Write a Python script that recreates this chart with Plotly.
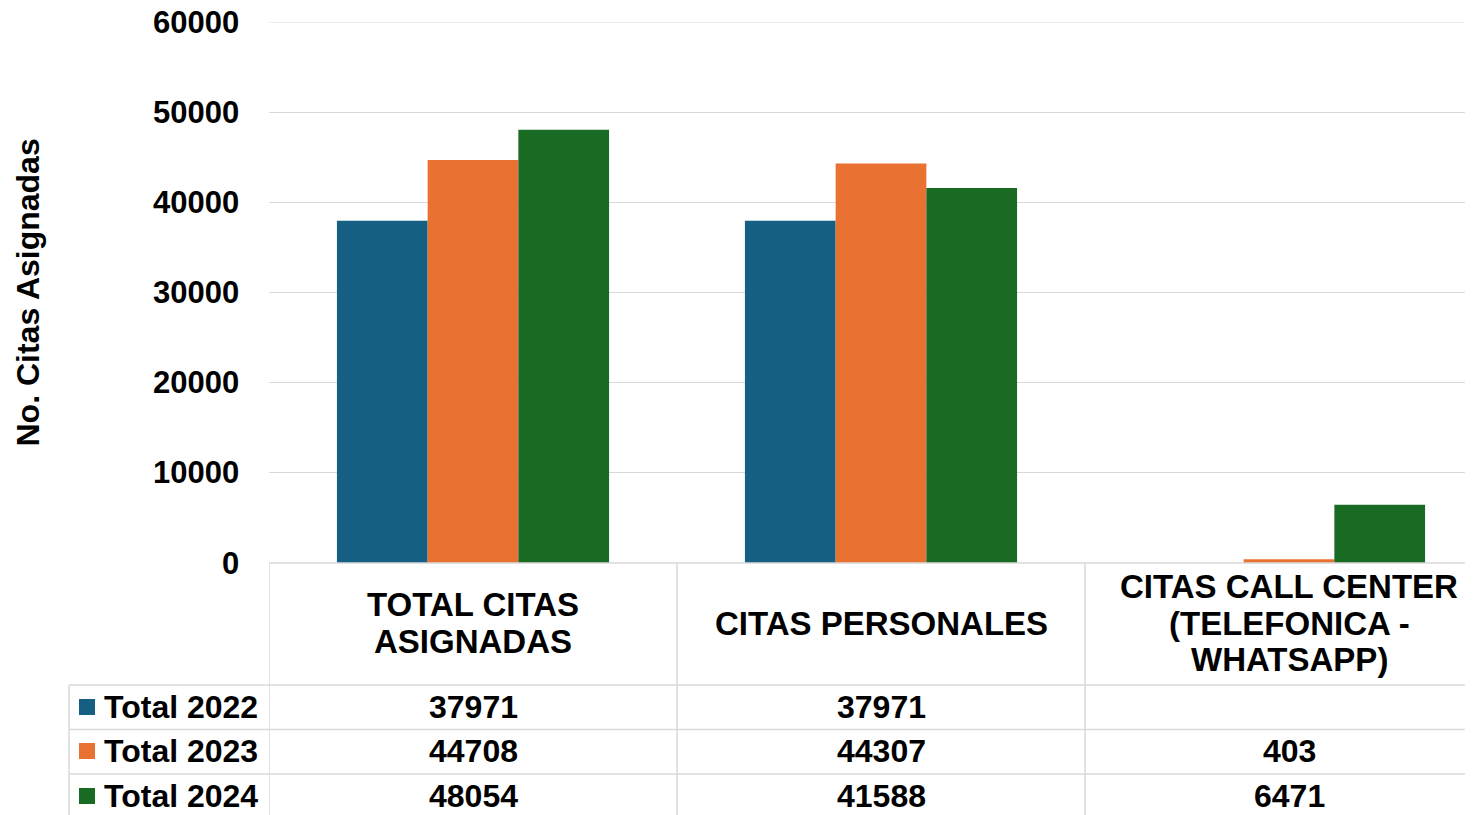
import plotly.graph_objects as go

categories = ["TOTAL CITAS<br>ASIGNADAS", "CITAS PERSONALES", "CITAS CALL CENTER<br>(TELEFONICA -<br>WHATSAPP)"]
series_names = ["Total 2022", "Total 2023", "Total 2024"]
total_2022 = [37971, 37971, None]
total_2023 = [44708, 44307, 403]
total_2024 = [48054, 41588, 6471]
colors = ["#156082", "#E97132", "#196B24"]
y_ticks = [0, 10000, 20000, 30000, 40000, 50000, 60000]

series = [total_2022, total_2023, total_2024]

OFF = 8  # page body margin in the browser
W, H = 1473 - OFF, 815 - OFF
L, T, B = 269 - OFF, 22 - OFF, 563 - OFF  # plot area pixels (figure coords)
PW, PH = W - L, B - T
FONT = "Liberation Sans, Arial, sans-serif"
GRID = "#d9d9d9"


def px_x(px):
    """reference-screen pixel x -> paper x"""
    return (px - OFF - L) / PW


def px_y(py):
    """reference-screen pixel y -> paper y"""
    return (B - (py - OFF)) / PH


fig = go.Figure()
xs = list(range(len(categories)))
for name, vals, col in zip(series_names, series, colors):
    fig.add_trace(go.Bar(x=xs, y=vals, name=name, marker=dict(color=col, line=dict(width=0)),
                         showlegend=False))

fig.update_layout(
    width=W, height=H,
    margin=dict(l=L, r=0, t=T, b=H - B, pad=0),
    paper_bgcolor="white", plot_bgcolor="white",
    barmode="group", bargap=0.333, bargroupgap=0,
    font=dict(family=FONT, color="black"),
    xaxis=dict(range=[-0.5, -0.5 + PW / 408], showticklabels=False, showgrid=False,
               zeroline=False, showline=False, fixedrange=True),
    yaxis=dict(range=[y_ticks[0], y_ticks[-1]], tickvals=y_ticks, showticklabels=False, ticks="",
               showgrid=True, gridcolor=GRID, gridwidth=1, zeroline=False, showline=False),
)

shapes = []
line = dict(color=GRID, width=1.5)
# top gridline (range edge)
shapes.append(dict(type="line", xref="paper", yref="y", x0=0, x1=1, y0=y_ticks[-1], y1=y_ticks[-1],
                   line=dict(color=GRID, width=1), layer="below"))
# axis line / table top
shapes.append(dict(type="line", xref="paper", yref="paper", x0=0, x1=1, y0=0, y1=0, line=line, layer="above"))
# header bottom and row lines
for py in [685, 729.5, 774]:
    shapes.append(dict(type="line", xref="paper", yref="paper", x0=px_x(69), x1=1,
                       y0=px_y(py), y1=px_y(py), line=line))
# vertical lines at category boundaries
for b in [-0.5, 0.5, 1.5]:
    shapes.append(dict(type="line", xref="x", yref="paper", x0=b, x1=b, y0=0, y1=px_y(820), line=line))
shapes.append(dict(type="line", xref="paper", yref="paper", x0=px_x(69), x1=px_x(69),
                   y0=px_y(685), y1=px_y(820), line=line))

annotations = []
# y tick labels (drawn on the y scale)
for v in y_ticks:
    annotations.append(dict(text=str(v), xref="paper", yref="y", x=px_x(241), y=v, showarrow=False,
                            xanchor="right", yanchor="middle",
                            font=dict(size=31, family=FONT, weight="bold")))
# y title
annotations.append(dict(text="No. Citas Asignadas", xref="paper", yref="paper", x=px_x(27), y=0.5,
                        textangle=-90, showarrow=False, xanchor="center", yanchor="middle",
                        font=dict(size=32, family=FONT, weight="bold")))
# header labels
for i, cat in enumerate(categories):
    lines = cat.split("<br>")
    n = len(lines)
    spacing = 36.5
    for j, ln in enumerate(lines):
        cy = 623 + (j - (n - 1) / 2) * spacing
        annotations.append(dict(text=ln, xref="x", yref="paper", x=i, y=px_y(cy), showarrow=False,
                                xanchor="center", yanchor="middle",
                                font=dict(size=33, family=FONT, weight="bold")))
# rows
row_centers = [707, 751, 796]
for name, vals, col, cy in zip(series_names, series, colors, row_centers):
    shapes.append(dict(type="rect", xref="paper", yref="paper", x0=px_x(79), x1=px_x(95),
                       y0=px_y(cy + 8), y1=px_y(cy - 8), fillcolor=col, line=dict(width=0)))
    annotations.append(dict(text=name, xref="paper", yref="paper", x=px_x(102), y=px_y(cy),
                            showarrow=False, xanchor="left", yanchor="middle",
                            font=dict(size=32, family=FONT, weight="bold")))
    for i, v in enumerate(vals):
        if v is None:
            continue
        annotations.append(dict(text=str(v), xref="x", yref="paper", x=i, y=px_y(cy), showarrow=False,
                                xanchor="center", yanchor="middle",
                                font=dict(size=32, family=FONT, weight="bold")))

fig.update_layout(shapes=shapes, annotations=annotations)
fig.write_html("out.html")
